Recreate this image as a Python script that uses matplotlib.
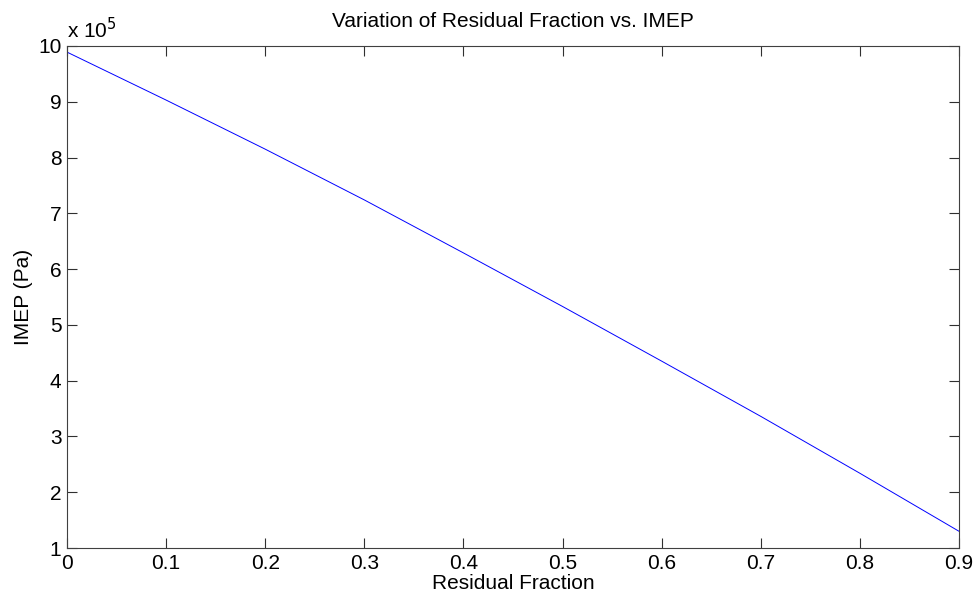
import matplotlib
matplotlib.use('Agg')
import matplotlib.pyplot as plt

# values
residual_fraction = [0.0, 0.1, 0.2, 0.3, 0.4, 0.5, 0.6, 0.7, 0.8, 0.9]
imep_pa = [9.89e5, 9.03e5, 8.15e5, 7.24e5, 6.29e5, 5.33e5, 4.35e5, 3.36e5, 2.34e5, 1.30e5]
x_ticks = [0, 0.1, 0.2, 0.3, 0.4, 0.5, 0.6, 0.7, 0.8, 0.9]
x_tick_labels = ['0', '0.1', '0.2', '0.3', '0.4', '0.5', '0.6', '0.7', '0.8', '0.9']
y_ticks = [1e5, 2e5, 3e5, 4e5, 5e5, 6e5, 7e5, 8e5, 9e5, 10e5]
y_tick_labels = ['1', '2', '3', '4', '5', '6', '7', '8', '9', '10']

plt.rcParams['font.family'] = ['Liberation Sans', 'DejaVu Sans']

fig = plt.figure(figsize=(9.77, 5.94), dpi=100)
ax = fig.add_axes([0.0686, 0.0774, 0.9130, 0.8452])

ax.plot(residual_fraction, imep_pa, color='#0000ff', linewidth=0.7)

ax.set_xlim(0, 0.9)
ax.set_ylim(1e5, 10e5)
ax.set_xticks(x_ticks)
ax.set_xticklabels(x_tick_labels)
ax.set_yticks(y_ticks)
ax.set_yticklabels(y_tick_labels)
ax.tick_params(direction='in', length=7, width=0.8, top=True, right=True,
               labelsize=15, colors='#303030', labelcolor='black')
ax.tick_params(axis='x', pad=4)
ax.tick_params(axis='y', pad=4)
for s in ax.spines.values():
  s.set_color('#404040')
  s.set_linewidth(0.8)

ax.text(0.0, 1.008, r'x 10$^{5}$', transform=ax.transAxes, fontsize=15,
        ha='left', va='bottom')

ax.set_title('Variation of Residual Fraction vs. IMEP', fontsize=15, pad=14)
ax.set_xlabel('Residual Fraction', fontsize=15, labelpad=1)
ax.set_ylabel('IMEP (Pa)', fontsize=15, labelpad=4)

fig.savefig('out.png', dpi=100)
